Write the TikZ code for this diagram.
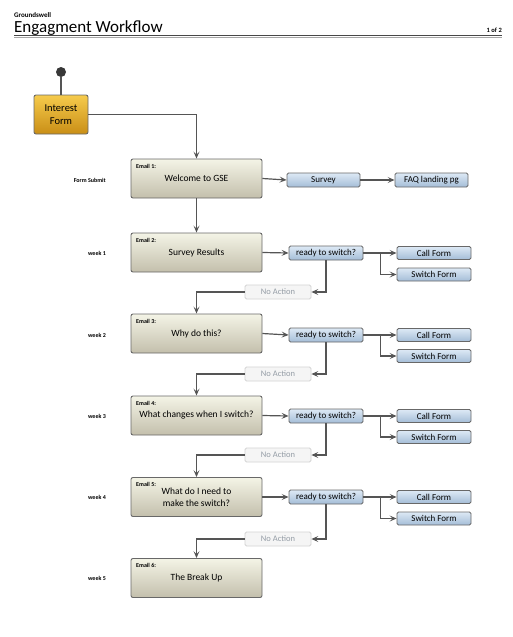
\documentclass[tikz,border=0pt]{standalone}
\usepackage{fontspec}
\setmainfont{Carlito}
\usetikzlibrary{arrows.meta}

\definecolor{boxline}{HTML}{686868}
\definecolor{flowgray}{HTML}{555555}
\definecolor{emailtop}{HTML}{F4F4E6}
\definecolor{emailbot}{HTML}{C3BFAC}
\definecolor{formtop}{HTML}{F6CB4C}
\definecolor{formbot}{HTML}{C98E16}
\definecolor{bluetop}{HTML}{DDE9F5}
\definecolor{bluebot}{HTML}{A4BDD7}
\definecolor{noline}{HTML}{D3D3D3}
\definecolor{nofill}{HTML}{F5F5F5}
\definecolor{notext}{HTML}{959DA6}

\tikzset{
  emailbox/.style={shape=rectangle,rounded corners=2pt,draw=boxline,line width=0.9pt,top color=emailtop,bottom color=emailbot,minimum width=131pt,minimum height=39pt,inner sep=0pt,align=center,font=\fontsize{9.5}{11.5}\selectfont},
  emailtag/.style={anchor=north west,inner sep=0pt,font=\fontsize{6}{7}\selectfont\bfseries},
  formbox/.style={shape=rectangle,rounded corners=2pt,draw=boxline,line width=0.9pt,top color=formtop,bottom color=formbot,minimum width=54pt,minimum height=39pt,inner sep=0pt,align=center,font=\fontsize{10.5}{12.5}\selectfont},
  bluebox/.style={shape=rectangle,rounded corners=1.5pt,draw=boxline,line width=0.9pt,top color=bluetop,bottom color=bluebot,minimum width=74pt,minimum height=14pt,inner sep=0pt,font=\fontsize{9}{10}\selectfont},
  nobox/.style={shape=rectangle,rounded corners=1.5pt,draw=noline,line width=0.8pt,fill=nofill,text=notext,minimum width=66pt,minimum height=14pt,inner sep=0pt,font=\fontsize{8.5}{10}\selectfont},
  weektag/.style={anchor=east,inner sep=0pt,font=\fontsize{6}{7}\selectfont\bfseries},
  flow/.style={draw=flowgray,line width=1.2pt,-{Stealth[length=7pt,width=6pt,inset=3pt]}},
  plainflow/.style={draw=flowgray,line width=1.2pt}
}

\begin{document}
\begin{tikzpicture}[x=1pt,y=-1pt]
\useasboundingbox (0,0) rectangle (513,637);

% header
\node[anchor=base west,inner sep=0pt,font=\fontsize{7}{8}\selectfont\bfseries] (brand) at (14,17) {Groundswell};
\node[anchor=base west,inner sep=0pt,font=\fontsize{17}{19}\selectfont] (title) at (14,32) {Engagment Workflow};
\node[anchor=base east,inner sep=0pt,font=\fontsize{6.5}{8}\selectfont\bfseries] (page) at (502,32) {1 of 2};
\draw[line width=1.2pt,draw=black!72] (14,35.5) -- (502,35.5);
\draw[line width=0.8pt,draw=black!35] (14,37) -- (502,37);

% start
\node[shape=circle,fill=black!78,minimum size=10pt,inner sep=0pt] (start) at (61,72) {};
\node[formbox] (form) at (61,114.5) {Interest\\Form};

% emails
\node[emailbox] (e1) at (196.5,178.5) {\raisebox{-2pt}{Welcome to GSE}};
\node[emailbox] (e2) at (196.5,252.5) {\raisebox{-2pt}{Survey Results}};
\node[emailbox] (e3) at (196.5,333.5) {\raisebox{-2pt}{Why do this?}};
\node[emailbox] (e4) at (196.5,415.5) {\raisebox{-2pt}{What changes when I switch?}};
\node[emailbox] (e5) at (196.5,497) {What do I need to\\make the switch?};
\node[emailbox] (e6) at (196.5,578) {\raisebox{-2pt}{The Break Up}};

\node[emailtag] (t1) at (136,164) {Email 1:};
\node[emailtag] (t2) at (136,238) {Email 2:};
\node[emailtag] (t3) at (136,319) {Email 3:};
\node[emailtag] (t4) at (136,401) {Email 4:};
\node[emailtag] (t5) at (136,482) {Email 5:};
\node[emailtag] (t6) at (136,563) {Email 6:};

% row labels
\node[weektag] (w0) at (106,180) {Form Submit};
\node[weektag] (w1) at (106,253) {week 1};
\node[weektag] (w2) at (106,335) {week 2};
\node[weektag] (w3) at (106,416) {week 3};
\node[weektag] (w4) at (106,497) {week 4};
\node[weektag] (w5) at (106,578) {week 5};

% side boxes
\node[bluebox,minimum width=73pt] (survey) at (323.5,180) {Survey};
\node[bluebox,minimum width=73pt] (faq) at (431.5,180) {FAQ landing pg};

\node[bluebox] (r2) at (326,253) {ready to switch?};
\node[bluebox] (r3) at (326,335) {ready to switch?};
\node[bluebox] (r4) at (326,416) {ready to switch?};
\node[bluebox] (r5) at (326,497) {ready to switch?};

\node[bluebox,minimum height=13pt] (c2) at (434,253) {Call Form};
\node[bluebox,minimum height=13pt] (c3) at (434,335) {Call Form};
\node[bluebox,minimum height=13pt] (c4) at (434,416) {Call Form};
\node[bluebox,minimum height=13pt] (c5) at (434,497) {Call Form};

\node[bluebox,minimum height=13pt] (s2) at (434,274.5) {Switch Form};
\node[bluebox,minimum height=13pt] (s3) at (434,356) {Switch Form};
\node[bluebox,minimum height=13pt] (s4) at (434,437) {Switch Form};
\node[bluebox,minimum height=13pt] (s5) at (434,518.5) {Switch Form};

\node[nobox] (n2) at (278,292) {No Action};
\node[nobox] (n3) at (278,374) {No Action};
\node[nobox] (n4) at (278,455) {No Action};
\node[nobox] (n5) at (278,539) {No Action};

% connectors
\path[plainflow] (start) -- (form.north);
\path[flow] (form.east) -| (e1.north);
\path[flow] (e1.east) -- (survey.west);
\path[flow] (survey.east) -- (faq.west);
\path[flow] (e1.south) -- (e2.north);

\path[flow] (e2.east) -- (r2.west);
\path[flow] (r2.east) -- (c2.west);
\path[flow] ([xshift=17pt]r2.east) |- (s2.west);
\path[flow] (r2.south) |- (n2.east);
\path[flow] (n2.west) -| (e3.north);

\path[flow] (e3.east) -- (r3.west);
\path[flow] (r3.east) -- (c3.west);
\path[flow] ([xshift=17pt]r3.east) |- (s3.west);
\path[flow] (r3.south) |- (n3.east);
\path[flow] (n3.west) -| (e4.north);

\path[flow] (e4.east) -- (r4.west);
\path[flow] (r4.east) -- (c4.west);
\path[flow] ([xshift=17pt]r4.east) |- (s4.west);
\path[flow] (r4.south) |- (n4.east);
\path[flow] (n4.west) -| (e5.north);

\path[flow] (e5.east) -- (r5.west);
\path[flow] (r5.east) -- (c5.west);
\path[flow] ([xshift=17pt]r5.east) |- (s5.west);
\path[flow] (r5.south) |- (n5.east);
\path[flow] (n5.west) -| (e6.north);
\end{tikzpicture}
\end{document}
